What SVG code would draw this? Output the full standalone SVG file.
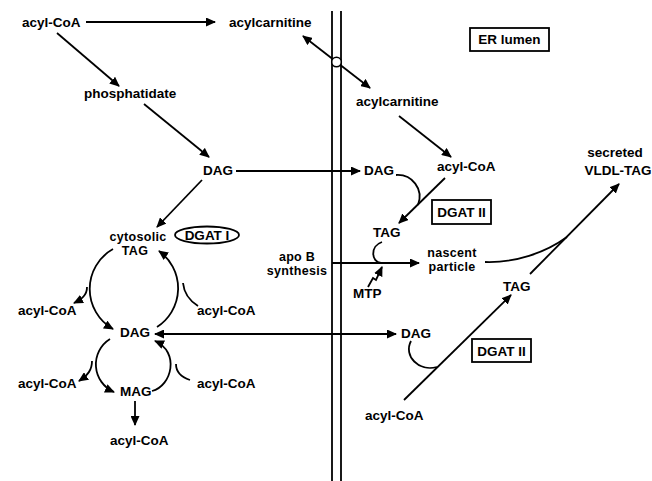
<svg xmlns="http://www.w3.org/2000/svg" width="652" height="481" viewBox="0 0 652 481">
<style>
text{font-family:"Liberation Sans",Arial,sans-serif;font-weight:bold;font-size:13.5px;fill:#000}
.m{text-anchor:middle}
.two{font-size:12.5px;letter-spacing:0.3px}
.ln{fill:none;stroke:#000;stroke-width:1.8}
.a{marker-end:url(#ah)}
.aa{marker-start:url(#ah2);marker-end:url(#ah2)}
.box{fill:#fff;stroke:#000;stroke-width:1.8}
.mem{stroke:#000;stroke-width:1.8}
</style>
<defs>
<marker id="ah" markerWidth="10" markerHeight="9" refX="9" refY="4.5" orient="auto" markerUnits="userSpaceOnUse"><path d="M0,0 L10,4.5 L0,9 z" fill="#000"/></marker>
<marker id="ah2" markerWidth="10" markerHeight="9" refX="9" refY="4.5" orient="auto-start-reverse" markerUnits="userSpaceOnUse"><path d="M0,0 L10,4.5 L0,9 z" fill="#000"/></marker>
</defs>
<rect width="652" height="481" fill="#fff"/>
<g id="membrane">
<line class="mem" x1="332" y1="11" x2="332" y2="481"/>
<line class="mem" x1="341" y1="11" x2="341" y2="481"/>
</g>
<g id="connectors">
<path class="ln a" d="M86,22 L215,22"/>
<path class="ln a" d="M57,33 L119,86"/>
<path class="ln a" d="M144,104 L209,157"/>
<path class="ln a" d="M236,171 L360,171"/>
<path class="ln aa" d="M303,36 L370,88"/>
<path class="ln a" d="M399,116 L451,157"/>
<path class="ln a" d="M445,178 L399,223"/>
<path class="ln" d="M396,175 C412,174 424,189 418,205"/>
<path class="ln a" d="M202,180 L157,227"/>
<path class="ln a" d="M113,249 A46,46 0 0 0 113,329"/>
<path class="ln a" d="M87,287 C87,295 82,299 74,303"/>
<path class="ln a" d="M157,327 A46,46 0 0 0 159,251"/>
<path class="ln" d="M198,306 C190,301 184,293 183,283"/>
<path class="ln aa" d="M155,334 L396,334"/>
<path class="ln a" d="M110,339 A30,30 0 0 0 114,392"/>
<path class="ln a" d="M92,361 C92,370 88,375 79,381"/>
<path class="ln a" d="M152,391 C172,386 180,352 155,341"/>
<path class="ln" d="M190,380 C181,377 176,371 176,364"/>
<path class="ln a" d="M135,401 L135,425"/>
<path class="ln a" d="M332,263 L419,263"/>
<path class="ln" d="M382,242 C370,246 371,262 381,263"/>
<path class="ln a" d="M368,287 L373,278 L376,280 L382,267"/>
<path class="ln a" d="M404,400 L511,295"/>
<path class="ln" d="M411,341 C403,356 419,372 437,367"/>
<path class="ln a" d="M530,274 L619,184"/>
<path class="ln" d="M485,262 C515,263 545,253 567,237"/>
</g>
<g id="transporter"><circle cx="336.5" cy="62" r="4.8" fill="#fff" stroke="#000" stroke-width="1.6"/></g>
<g id="n-acylcoa-top"><text x="22" y="27">acyl-CoA</text></g>
<g id="n-acylcarnitine-cyt"><text x="229" y="27">acylcarnitine</text></g>
<g id="n-phosphatidate"><text x="84" y="98">phosphatidate</text></g>
<g id="n-dag-top"><text x="203" y="175">DAG</text></g>
<g id="n-er-lumen"><rect class="box" x="470" y="28" width="79" height="23"/><text class="m" x="509.5" y="44">ER lumen</text></g>
<g id="n-acylcarnitine-er"><text x="356" y="106">acylcarnitine</text></g>
<g id="n-acylcoa-er"><text x="437" y="171">acyl-CoA</text></g>
<g id="n-dag-er"><text x="364" y="175">DAG</text></g>
<g id="n-vldl"><text class="m" x="615" y="157" font-size="12.5">secreted</text><text class="m" x="618" y="175">VLDL-TAG</text></g>
<g id="n-dgat2-upper"><rect class="box" x="432" y="200" width="59" height="24"/><text class="m" x="461.5" y="217">DGAT II</text></g>
<g id="n-tag-er"><text x="373" y="237">TAG</text></g>
<g id="n-nascent"><text class="m two" x="452" y="256.5">nascent</text><text class="m two" x="452" y="271">particle</text></g>
<g id="n-apob"><text class="m two" x="297" y="260.5">apo B</text><text class="m two" x="297" y="275">synthesis</text></g>
<g id="n-mtp"><text x="353" y="298">MTP</text></g>
<g id="n-tag-er2"><text x="503" y="291">TAG</text></g>
<g id="n-dag-er2"><text x="401" y="338">DAG</text></g>
<g id="n-dgat2-lower"><rect class="box" x="472" y="339" width="59" height="23"/><text class="m" x="501.5" y="356">DGAT II</text></g>
<g id="n-acylcoa-er2"><text x="365" y="420">acyl-CoA</text></g>
<g id="n-dgat1"><ellipse cx="207" cy="235" rx="32" ry="8.5" fill="#fff" stroke="#000" stroke-width="1.8"/><text class="m" x="207" y="240">DGAT I</text></g>
<g id="n-cyt-tag"><text class="m two" x="138" y="240.5">cytosolic</text><text class="m two" x="135" y="255">TAG</text></g>
<g id="n-acylcoa-l1"><text x="18" y="315">acyl-CoA</text></g>
<g id="n-acylcoa-r1"><text x="197" y="315">acyl-CoA</text></g>
<g id="n-dag-cyt"><text x="120" y="337">DAG</text></g>
<g id="n-acylcoa-l2"><text x="18" y="388">acyl-CoA</text></g>
<g id="n-mag"><text x="120" y="396">MAG</text></g>
<g id="n-acylcoa-r2"><text x="197" y="388">acyl-CoA</text></g>
<g id="n-acylcoa-bottom"><text x="110" y="445">acyl-CoA</text></g>
</svg>
